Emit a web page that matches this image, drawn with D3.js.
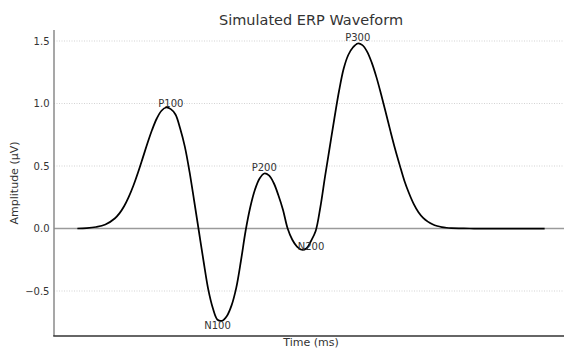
<!DOCTYPE html>
<html>
<head>
<meta charset="utf-8">
<script src="https://cdn.jsdelivr.net/npm/d3@7"></script>
<style>
  body { margin: 0; background: #fff; }
  svg { display: block; font-family: "DejaVu Sans", sans-serif; }
</style>
</head>
<body>
<svg id="chart" width="564" height="349"></svg>
<script>
// Sampled ERP waveform: time (ms) and amplitude (µV)
const timeMs = [
  0, 10, 20, 30, 40, 45, 50, 55, 60, 65, 70, 75, 80, 85, 90, 95,
  100, 105, 110, 115, 120, 125, 130, 135, 140, 145, 150, 155, 160, 165, 170, 175,
  180, 185, 190, 195, 200, 205, 210, 215, 220, 225, 230, 235, 240, 245, 250, 255,
  260, 265, 270, 275, 280, 285, 290, 295, 300, 305, 310, 315, 320, 325, 330, 335,
  340, 345, 350, 355, 360, 365, 370, 375, 380, 385, 390, 395, 400, 410, 420, 430,
  440, 450, 460, 470, 480, 490, 500
];
const amplitude = [
  0.000, 0.003, 0.012, 0.032, 0.080, 0.121, 0.178, 0.253, 0.344, 0.450, 0.565, 0.682, 0.790, 0.880, 0.942, 0.968,
  0.955, 0.912, 0.800, 0.655, 0.455, 0.220, -0.020, -0.260, -0.485, -0.638, -0.730, -0.738, -0.700, -0.615, -0.475, -0.260,
  -0.020, 0.170, 0.310, 0.400, 0.440, 0.425, 0.366, 0.268, 0.150, 0.000, -0.090, -0.145, -0.170, -0.160, -0.100, -0.020,
  0.170, 0.415, 0.648, 0.880, 1.100, 1.280, 1.390, 1.450, 1.480, 1.467, 1.415, 1.327, 1.211, 1.074, 0.928, 0.779,
  0.636, 0.505, 0.380, 0.280, 0.195, 0.130, 0.085, 0.055, 0.034, 0.020, 0.011, 0.006, 0.003, 0.001, 0.000, 0.000,
  0.000, 0.000, 0.000, 0.000, 0.000, 0.000, 0.000
];

// Y-axis ticks
const yTicks = [-0.5, 0.0, 0.5, 1.0, 1.5];

// Named components and their latencies (ms)
const peakNames = ["P100", "N100", "P200", "N200", "P300"];
const peakTimes = [100, 150, 200, 250, 300];

const svg = d3.select("#chart");
const plotLeft = 54, plotRight = 564, plotTop = 30, plotBottom = 336;

const x = d3.scaleLinear().domain([-25, 525]).range([54, 568]);
const y = d3.scaleLinear().domain([-0.86, 1.588]).range([plotBottom, plotTop]);

// dotted horizontal grid
svg.append("g")
  .selectAll("line")
  .data(yTicks.filter(d => d !== 0))
  .join("line")
  .attr("x1", plotLeft).attr("x2", plotRight)
  .attr("y1", d => y(d)).attr("y2", d => y(d))
  .attr("stroke", "#c8c8c8")
  .attr("stroke-width", 0.8)
  .attr("stroke-dasharray", "1,1.5");

// zero reference line
svg.append("line")
  .attr("x1", plotLeft).attr("x2", plotRight)
  .attr("y1", y(0)).attr("y2", y(0))
  .attr("stroke", "#9a9a9a")
  .attr("stroke-width", 1.3);

// y axis labels
const yAxis = d3.axisLeft(y)
  .tickValues(yTicks)
  .tickSize(0)
  .tickPadding(4.5)
  .tickFormat(d3.format(".1f"));
const gy = svg.append("g")
  .attr("transform", `translate(${plotLeft},0)`)
  .call(yAxis);
gy.select(".domain").remove();
gy.selectAll("text")
  .attr("font-family", "DejaVu Sans")
  .attr("font-size", 10)
  .attr("fill", "#333");

// spines
svg.append("line")
  .attr("x1", plotLeft).attr("x2", plotLeft)
  .attr("y1", plotTop).attr("y2", plotBottom)
  .attr("stroke", "#8a8a8a")
  .attr("stroke-width", 1.5);
svg.append("line")
  .attr("x1", plotLeft - 0.75).attr("x2", plotRight)
  .attr("y1", plotBottom).attr("y2", plotBottom)
  .attr("stroke", "#333")
  .attr("stroke-width", 1.5);

// waveform
const points = timeMs.map((t, i) => ({ t, a: amplitude[i] }));
const line = d3.line()
  .x(d => x(d.t))
  .y(d => y(d.a))
  .curve(d3.curveCatmullRom.alpha(0.5));
svg.append("path")
  .datum(points)
  .attr("d", line)
  .attr("fill", "none")
  .attr("stroke", "#000")
  .attr("stroke-width", 1.75);

// component labels, placed on the waveform value at each latency
svg.append("g")
  .selectAll("text")
  .data(peakNames.map((name, i) => {
    const t = peakTimes[i];
    return { name, t, a: amplitude[timeMs.indexOf(t)] };
  }))
  .join("text")
  .attr("x", d => x(d.t))
  .attr("y", d => y(d.a) + (d.a >= 0 ? -2.4 : 9.3))
  .attr("text-anchor", "middle")
  .attr("font-size", 10)
  .attr("fill", "#333")
  .text(d => d.name);

// title and axis titles
svg.append("text")
  .attr("x", 311).attr("y", 25)
  .attr("text-anchor", "middle")
  .attr("font-size", 14.5)
  .attr("fill", "#333")
  .text("Simulated ERP Waveform");

svg.append("text")
  .attr("x", 311).attr("y", 346)
  .attr("text-anchor", "middle")
  .attr("font-size", 11)
  .attr("fill", "#333")
  .text("Time (ms)");

svg.append("text")
  .attr("transform", "translate(18,183) rotate(-90)")
  .attr("text-anchor", "middle")
  .attr("font-size", 11)
  .attr("fill", "#333")
  .text("Amplitude (μV)");
</script>
</body>
</html>
